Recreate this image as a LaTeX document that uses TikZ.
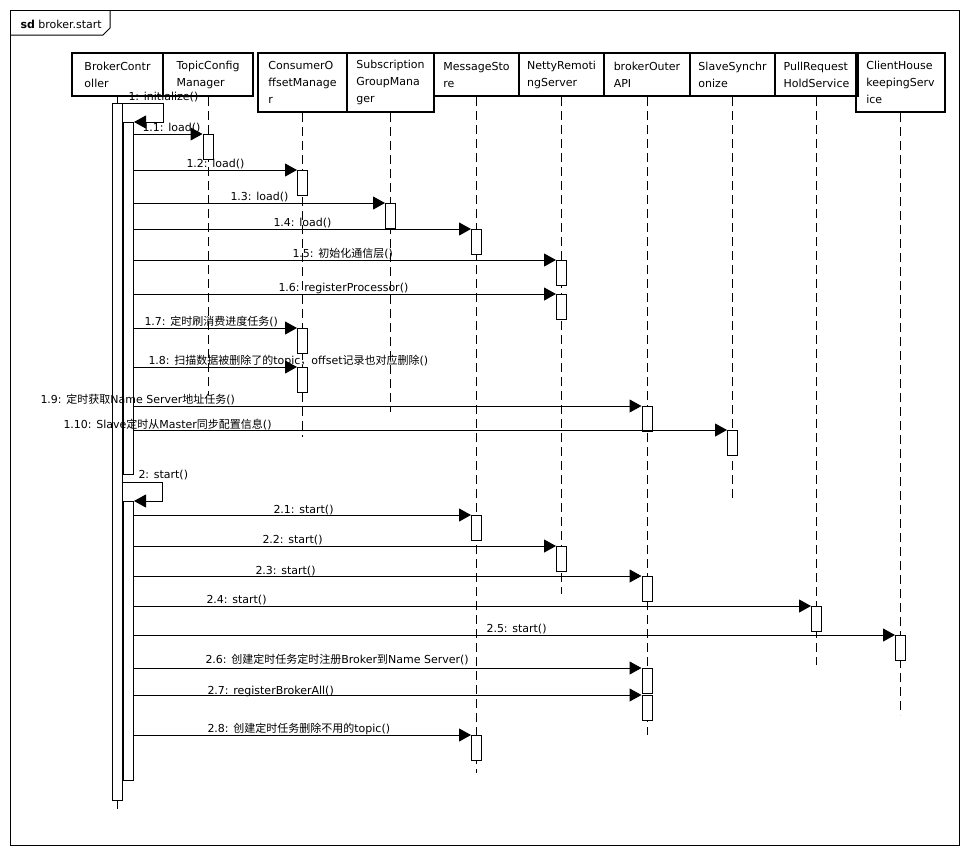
\documentclass[tikz,border=0pt]{standalone}
\usepackage{fontspec}
\setmainfont{DejaVu Sans}
\newfontfamily\cjk{Noto Sans CJK SC}
\newcommand{\zh}[1]{{\cjk #1}}
\usetikzlibrary{arrows.meta}

\begin{document}
\begin{tikzpicture}[x=1pt,y=-1pt,line width=1pt,
    font=\fontsize{11}{17}\selectfont,
    lifehead/.style={draw,line width=2pt,anchor=north west,align=left,inner sep=0pt,minimum height=43pt},
    lifeline/.style={dash pattern=on 9pt off 5pt},
    actbar/.style={draw,fill=white,minimum width=10pt,minimum height=25pt,inner sep=0pt,anchor=north},
    msg/.style={-{Triangle[length=12pt,width=13pt]}},
    msgtext/.style={anchor=base west,inner sep=0pt}]

    \useasboundingbox (0,0) rectangle (969,855);

    % frame
    \draw (10,10) rectangle (959,845);
    \draw (10,35) -- (103,35) -- (110,28) -- (110,10); % tab
    \node[msgtext] (title) at (20,28) {\textbf{sd} broker.start};

    % nodes (objects)
    \node[lifehead,minimum width=91pt] (ctrl) at (71,52) {BrokerContr\\oller};
    \node[lifehead,minimum width=90pt] (topic) at (162,52) {TopicConfig\\Manager};
    \node[lifehead,minimum width=89pt,minimum height=59pt] (offset) at (257,52) {ConsumerO\\ffsetManage\\r};
    \node[lifehead,minimum width=87pt,minimum height=59pt] (subgroup) at (346,52) {Subscription\\GroupMana\\ger};
    \node[lifehead,minimum width=85pt] (store) at (433,52) {MessageSto\\re};
    \node[lifehead,minimum width=85pt] (netty) at (518,52) {NettyRemoti\\ngServer};
    \node[lifehead,minimum width=86pt] (outer) at (603,52) {brokerOuter\\API};
    \node[lifehead,minimum width=85pt] (slave) at (689,52) {SlaveSynchr\\onize};
    \node[lifehead,minimum width=83pt] (pullhold) at (774,52) {PullRequest\\HoldService};
    \node[lifehead,minimum width=89pt,minimum height=59pt] (housekeep) at (855,52) {ClientHouse\\keepingServ\\ice};

    % lifelines
    \coordinate (ctrlEnd) at (ctrl.south |- 0,809);
    \coordinate (topicEnd) at (topic.south |- 0,395);
    \coordinate (offsetEnd) at (offset.south |- 0,437);
    \coordinate (subgroupEnd) at (subgroup.south |- 0,412);
    \coordinate (storeEnd) at (store.south |- 0,773);
    \coordinate (nettyEnd) at (netty.south |- 0,594);
    \coordinate (outerEnd) at (outer.south |- 0,735);
    \coordinate (slaveEnd) at (slave.south |- 0,499);
    \coordinate (pullholdEnd) at (pullhold.south |- 0,665);
    \coordinate (housekeepEnd) at (housekeep.south |- 0,715);
    \draw (ctrl.south) to (ctrlEnd);
    \draw[lifeline] (topic.south) to (topicEnd);
    \draw[lifeline] (offset.south) to (offsetEnd);
    \draw[lifeline] (subgroup.south) to (subgroupEnd);
    \draw[lifeline] (store.south) to (storeEnd);
    \draw[lifeline] (netty.south) to (nettyEnd);
    \draw[lifeline] (outer.south) to (outerEnd);
    \draw[lifeline] (slave.south) to (slaveEnd);
    \draw[lifeline] (pullhold.south) to (pullholdEnd);
    \draw[lifeline] (housekeep.south) to (housekeepEnd);

    % nodes (activations)
    \node[actbar,minimum height=697pt] (ctrlbar) at (ctrl.south |- 0,103) {};
    \node[actbar,anchor=north west,minimum height=352pt] (init) at (ctrlbar.east |- 0,122) {};
    \node[actbar,anchor=north west,minimum height=279pt] (start) at (ctrlbar.east |- 0,501) {};

    \node[actbar] (topicLoad) at (topic.south |- 0,134) {};
    \node[actbar] (offsetLoad) at (offset.south |- 0,170) {};
    \node[actbar] (subLoad) at (subgroup.south |- 0,203) {};
    \node[actbar] (storeLoad) at (store.south |- 0,229) {};
    \node[actbar] (nettyInit) at (netty.south |- 0,260) {};
    \node[actbar] (nettyReg) at (netty.south |- 0,294) {};
    \node[actbar] (offsetFlush) at (offset.south |- 0,328) {};
    \node[actbar] (offsetScan) at (offset.south |- 0,367) {};
    \node[actbar] (outerFetch) at (outer.south |- 0,406) {};
    \node[actbar] (slaveSync) at (slave.south |- 0,430) {};

    \node[actbar] (storeStart) at (store.south |- 0,515) {};
    \node[actbar] (nettyStart) at (netty.south |- 0,546) {};
    \node[actbar] (outerStart) at (outer.south |- 0,576) {};
    \node[actbar] (pullholdStart) at (pullhold.south |- 0,606) {};
    \node[actbar] (housekeepStart) at (housekeep.south |- 0,635) {};
    \node[actbar] (outerReg) at (outer.south |- 0,668) {};
    \node[actbar] (outerRegAll) at (outer.south |- 0,695) {};
    \node[actbar] (storeClean) at (store.south |- 0,735) {};

    % paths (self calls)
    \draw[msg] (ctrlbar.north east) -- ++(40,0) |- (init.north east); % initialize
    \draw[msg] (ctrlbar.east |- 0,482) -- ++(39,0) |- (start.north east); % start

    % paths (messages)
    \draw[msg] (init.east |- topicLoad.north) to (topicLoad.north west); % 1.1
    \draw[msg] (init.east |- offsetLoad.north) to (offsetLoad.north west); % 1.2
    \draw[msg] (init.east |- subLoad.north) to (subLoad.north west); % 1.3
    \draw[msg] (init.east |- storeLoad.north) to (storeLoad.north west); % 1.4
    \draw[msg] (init.east |- nettyInit.north) to (nettyInit.north west); % 1.5
    \draw[msg] (init.east |- nettyReg.north) to (nettyReg.north west); % 1.6
    \draw[msg] (init.east |- offsetFlush.north) to (offsetFlush.north west); % 1.7
    \draw[msg] (init.east |- offsetScan.north) to (offsetScan.north west); % 1.8
    \draw[msg] (init.east |- outerFetch.north) to (outerFetch.north west); % 1.9
    \draw[msg] (init.east |- slaveSync.north) to (slaveSync.north west); % 1.10

    \draw[msg] (start.east |- storeStart.north) to (storeStart.north west); % 2.1
    \draw[msg] (start.east |- nettyStart.north) to (nettyStart.north west); % 2.2
    \draw[msg] (start.east |- outerStart.north) to (outerStart.north west); % 2.3
    \draw[msg] (start.east |- pullholdStart.north) to (pullholdStart.north west); % 2.4
    \draw[msg] (start.east |- housekeepStart.north) to (housekeepStart.north west); % 2.5
    \draw[msg] (start.east |- outerReg.north) to (outerReg.north west); % 2.6
    \draw[msg] (start.east |- outerRegAll.north) to (outerRegAll.north west); % 2.7
    \draw[msg] (start.east |- storeClean.north) to (storeClean.north west); % 2.8

    % nodes (labels)
    \node[msgtext] (l1) at (128,100) {1: initialize()};
    \node[msgtext] (l11) at (142,131) {1.1: load()};
    \node[msgtext] (l12) at (186,167) {1.2: load()};
    \node[msgtext] (l13) at (230,200) {1.3: load()};
    \node[msgtext] (l14) at (273,226) {1.4: load()};
    \node[msgtext] (l15) at (292,257) {1.5: \zh{初始化通信层}()};
    \node[msgtext] (l16) at (278,291) {1.6: registerProcessor()};
    \node[msgtext] (l17) at (144,325) {1.7: \zh{定时刷消费进度任务}()};
    \node[msgtext] (l18) at (148,364) {1.8: \zh{扫描数据被删除了的}topic\zh{，}offset\zh{记录也对应删除}()};
    \node[msgtext] (l19) at (40,403) {1.9: \zh{定时获取}Name Server\zh{地址任务}()};
    \node[msgtext] (l110) at (63,428) {1.10: Slave\zh{定时从}Master\zh{同步配置信息}()};

    \node[msgtext] (l2) at (138,478) {2: start()};
    \node[msgtext] (l21) at (273,513) {2.1: start()};
    \node[msgtext] (l22) at (262,543) {2.2: start()};
    \node[msgtext] (l23) at (255,574) {2.3: start()};
    \node[msgtext] (l24) at (206,603) {2.4: start()};
    \node[msgtext] (l25) at (486,632) {2.5: start()};
    \node[msgtext] (l26) at (205,663) {2.6: \zh{创建定时任务定时注册}Broker\zh{到}Name Server()};
    \node[msgtext] (l27) at (207,694) {2.7: registerBrokerAll()};
    \node[msgtext] (l28) at (207,732) {2.8: \zh{创建定时任务删除不用的}topic()};

\end{tikzpicture}
\end{document}
